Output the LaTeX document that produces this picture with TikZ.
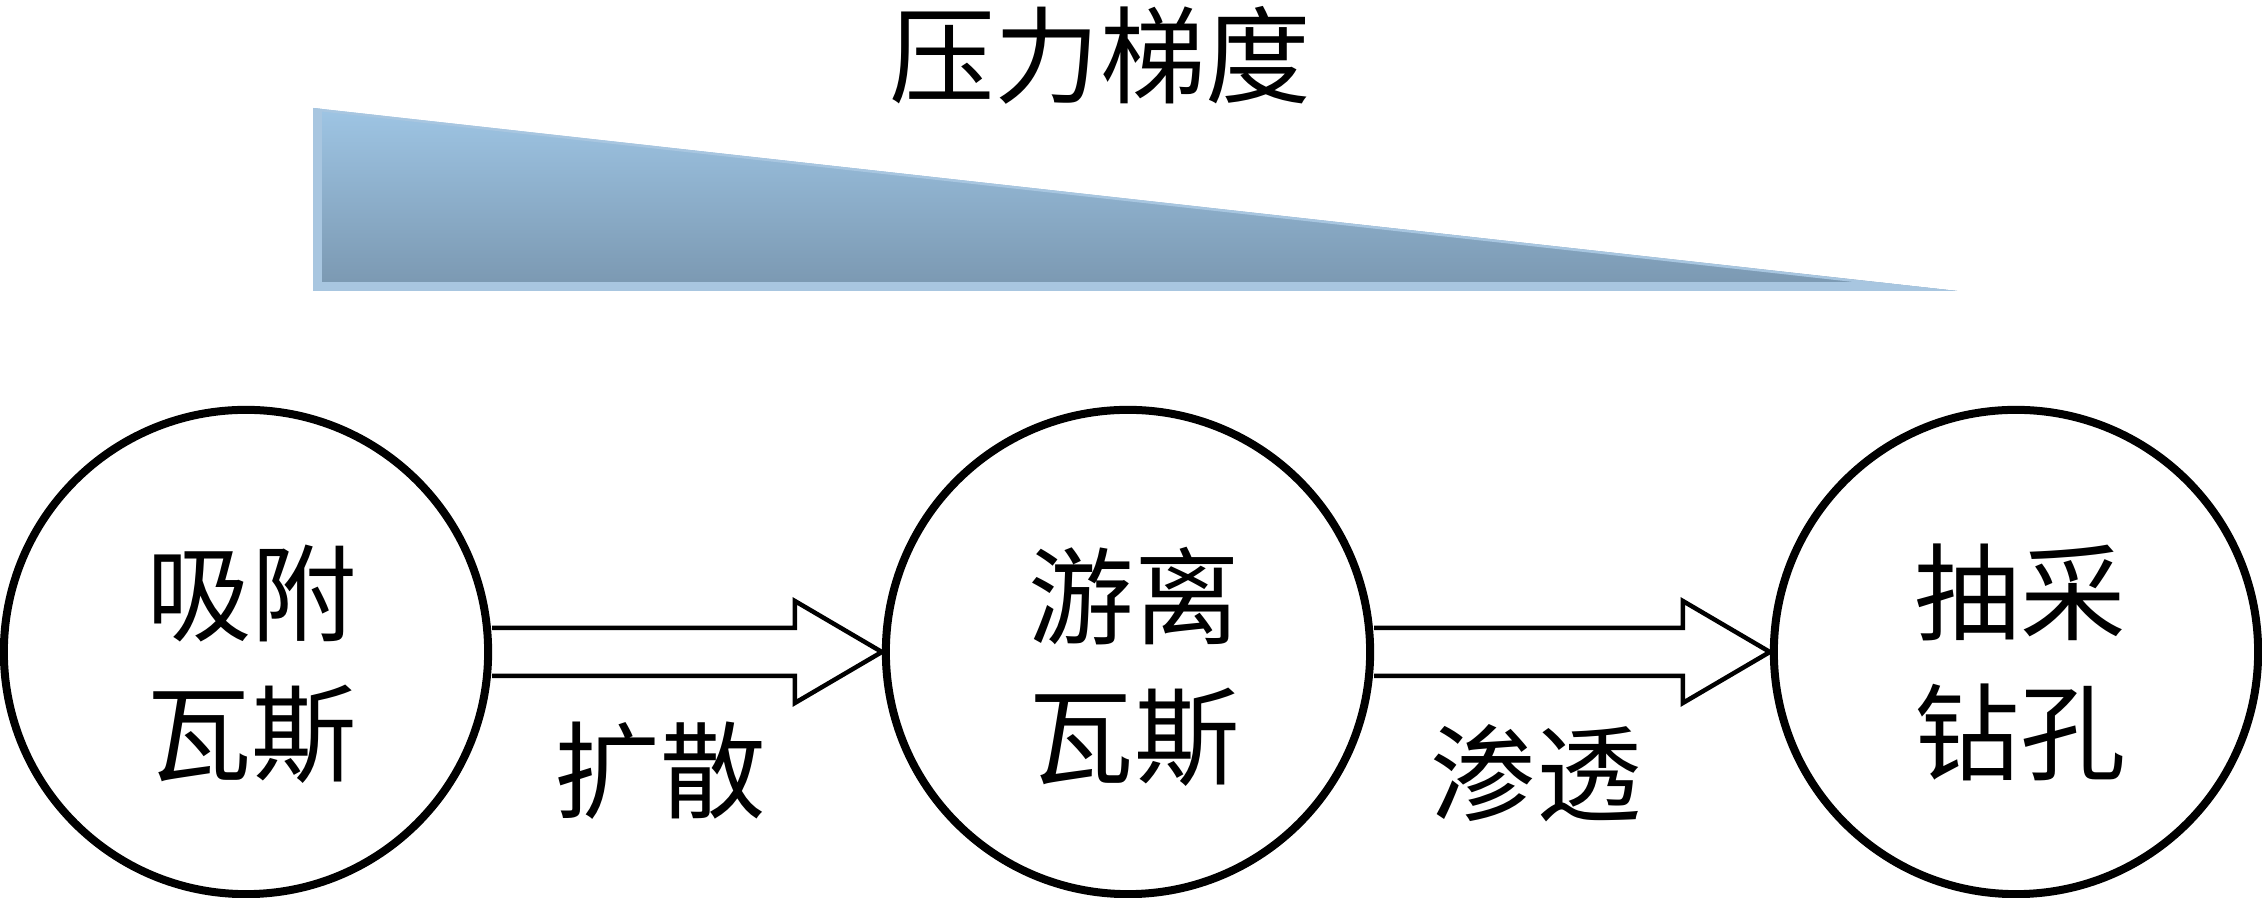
\documentclass[tikz,border=0pt]{standalone}
\usepackage{fontspec}
\newfontfamily\cjk{Noto Sans CJK SC}
\usetikzlibrary{calc}
\definecolor{gtop}{RGB}{158,197,228}
\definecolor{gbot}{RGB}{122,151,176}
\definecolor{gline}{RGB}{168,198,224}
\begin{document}
\begin{tikzpicture}[x=0.01cm,y=-0.01cm,
  txt/.style={font=\cjk\fontsize{30}{39.8}\selectfont, align=center, inner sep=0pt},
  stage/.style={circle, draw, line width=0.08cm, minimum size=4.84cm, inner sep=0pt},
  flow/.style={draw, line width=0.045cm, line join=miter}]
\useasboundingbox (0,0) rectangle (2262,898);
% title
\node[txt] (title) at (1100,55) {压力梯度};
% pressure gradient wedge
\path[top color=gtop, bottom color=gbot] (313,108) -- (313,291) -- (1957,291) -- cycle;
\begin{scope}
  \clip (313,108) -- (313,291) -- (1957,291) -- cycle;
  \draw[gline, line width=0.09cm] (317.5,100) -- (317.5,286.5) -- (1970,286.5);
  \draw[gline, line width=0.05cm] (313,108) -- (1957,291);
\end{scope}
% stages
\node[stage] (c1) at (246,652) {};
\node[stage] (c2) at (1128,652) {};
\node[stage] (c3) at (2016,652) {};
\node[txt] (t1) at (252,664) {吸附\\瓦斯};
\node[txt] (t2) at (1134,667) {游离\\瓦斯};
\node[txt] (t3) at (2020,662) {抽采\\钻孔};
% block arrows
\draw[flow] ($(c1.east)+(0,-24)$) -- ($(c2.west)+(-87,-24)$) -- ($(c2.west)+(-87,-51)$)
  -- (c2.west) -- ($(c2.west)+(-87,51)$) -- ($(c2.west)+(-87,24)$) -- ($(c1.east)+(0,24)$);
\draw[flow] ($(c2.east)+(0,-24)$) -- ($(c3.west)+(-87,-24)$) -- ($(c3.west)+(-87,-51)$)
  -- (c3.west) -- ($(c3.west)+(-87,51)$) -- ($(c3.west)+(-87,24)$) -- ($(c2.east)+(0,24)$);
% arrow labels
\node[txt] (l1) at (660,771) {扩散};
\node[txt] (l2) at (1536,773) {渗透};
\end{tikzpicture}
\end{document}
